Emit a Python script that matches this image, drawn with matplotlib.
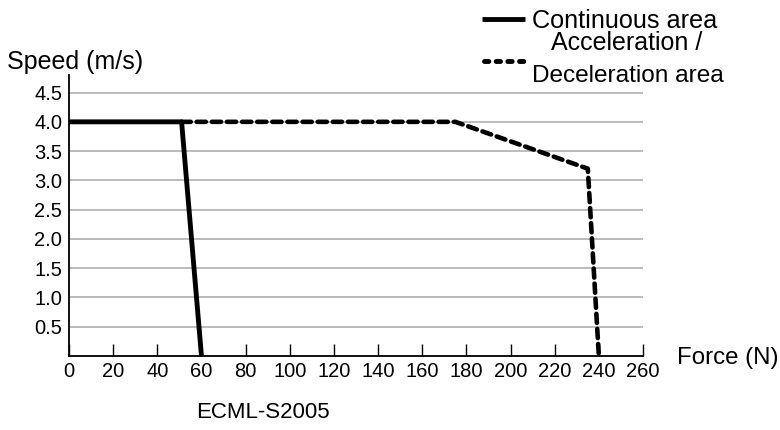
import numpy as np
import matplotlib.pyplot as plt
from matplotlib.lines import Line2D

# データ
force_cont = [0, 51, 60]
speed_cont = [4.0, 4.0, 0.0]
force_acc = [51, 175, 235, 240]
speed_acc = [4.0, 4.0, 3.2, 0.0]

x_ticks = list(range(0, 261, 20))
y_ticks = [0.5, 1.0, 1.5, 2.0, 2.5, 3.0, 3.5, 4.0, 4.5]
y_ticklabels = ["0.5", "1.0", "1.5", "2.0", "2.5", "3.0", "3.5", "4.0", "4.5"]

plt.rcParams['font.family'] = ['Liberation Sans', 'DejaVu Sans']

W, H = 780, 430
fig = plt.figure(figsize=(7.8, 4.3), dpi=100)
ax = fig.add_axes([69 / W, 1 - 356 / H, (643 - 69) / W, (356 - 75) / H])

# グリッド線
for y in y_ticks:
    ax.plot([0, 260], [y, y], color="#a8a8a8", lw=1.1, zorder=1)

# 曲線
ax.plot(force_acc, speed_acc, color="black", lw=3.3, linestyle=(0, (2.0, 1.3)),
        dash_capstyle="round", zorder=3, clip_on=False)
ax.plot(force_cont, speed_cont, color="black", lw=3.5, solid_capstyle="butt",
        zorder=4, clip_on=False)

ax.set_xlim(0, 260)
ax.set_ylim(0, 4.8)
ax.set_xticks(x_ticks)
ax.set_xticklabels([str(v) for v in x_ticks], fontsize=14.5)
ax.set_yticks(y_ticks)
ax.set_yticklabels(y_ticklabels, fontsize=14.5)
ax.tick_params(axis="x", direction="in", length=9, width=1, pad=4)
ax.tick_params(axis="y", length=0, pad=5)

for s in ["top", "right"]:
    ax.spines[s].set_visible(False)
for s in ["left", "bottom"]:
    ax.spines[s].set_linewidth(1.3)

# 軸ラベル
fig.text(7 / W, 1 - 62 / H, "Speed (m/s)", fontsize=18, ha="left", va="center")
fig.text(677 / W, 1 - 358 / H, "Force (N)", fontsize=17.3, ha="left", va="center")
fig.text(263 / W, 1 - 412 / H, "ECML-S2005", fontsize=16, ha="center", va="center")

# 凡例（手動配置）
fig.add_artist(Line2D([482 / W, 525 / W], [1 - 19 / H, 1 - 19 / H], color="black",
                      lw=3.5, solid_capstyle="butt", transform=fig.transFigure))
fig.add_artist(Line2D([484 / W, 524 / W], [1 - 61 / H, 1 - 61 / H], color="black",
                      lw=3.5, linestyle=(0, (0.9, 1.5)), dash_capstyle="round",
                      transform=fig.transFigure))
fig.text(532 / W, 1 - 28 / H, "Continuous area", fontsize=18.2, ha="left", va="baseline")
fig.text(627 / W, 1 - 50 / H, "Acceleration /", fontsize=18, ha="center", va="baseline")
fig.text(532 / W, 1 - 82 / H, "Deceleration area", fontsize=17.6, ha="left", va="baseline")

plt.savefig("out.png", dpi=100)
